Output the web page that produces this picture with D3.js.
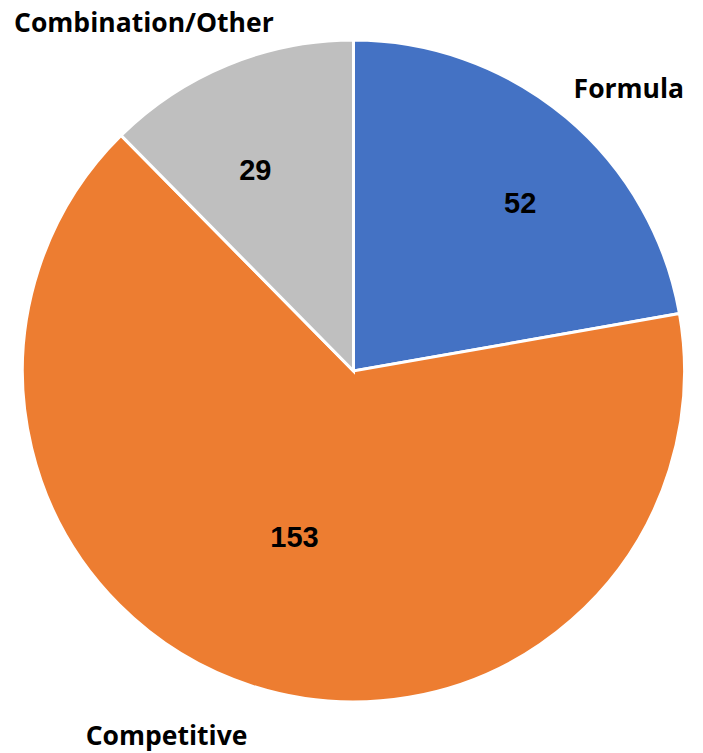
<!DOCTYPE html>
<html>
<head>
<meta charset="utf-8">
<script src="https://cdn.jsdelivr.net/npm/d3@7"></script>
<style>
  html, body { margin: 0; padding: 0; background: #fff; }
  svg { display: block; }
</style>
</head>
<body>
<svg id="chart" width="703" height="753"></svg>
<script>
// Contract award method counts
const categories = ["Formula", "Competitive", "Combination/Other"];
const values = [52, 153, 29];
const colors = ["#4472C4", "#ED7D31", "#BFBFBF"];

const svg = d3.select("#chart");
const cx = 353.5, cy = 371, R = 331;
const g = svg.append("g").attr("transform", `translate(${cx},${cy})`);

const data = categories.map((c, i) => ({ name: c, value: values[i], color: colors[i] }));

const pie = d3.pie().value(d => d.value).sort(null);
const arcs = pie(data);
const arc = d3.arc().innerRadius(0).outerRadius(R);

g.selectAll("path.slice")
  .data(arcs)
  .join("path")
  .attr("class", "slice")
  .attr("d", arc)
  .attr("fill", d => d.data.color)
  .attr("stroke", "#fff")
  .attr("stroke-width", 3)
  .attr("stroke-linejoin", "miter");

// polar placement (angle from top in degrees, radius in px) for value and name labels
const valuePlace = [[44.7, 237], [199.6, 176], [334, 224]];
const namePlace = [[44.2, 395], [207.2, 409], [329, 407]];
const polar = (a, r) => {
  const t = a * Math.PI / 180;
  return [r * Math.sin(t), -r * Math.cos(t)];
};

g.selectAll("text.value")
  .data(arcs)
  .join("text")
  .attr("class", "value")
  .attr("transform", (d, i) => `translate(${polar(...valuePlace[i])})`)
  .attr("text-anchor", "middle")
  .attr("dominant-baseline", "central")
  .attr("font-family", "Liberation Sans, Arial, sans-serif")
  .attr("font-weight", "bold")
  .attr("font-size", 29)
  .attr("fill", "#000")
  .text(d => d.data.value);

g.selectAll("text.name")
  .data(arcs)
  .join("text")
  .attr("class", "name")
  .attr("transform", (d, i) => `translate(${polar(...namePlace[i])})`)
  .attr("text-anchor", "middle")
  .attr("dominant-baseline", "central")
  .attr("font-family", "Open Sans, sans-serif")
  .attr("font-weight", "bold")
  .attr("font-size", 26.5)
  .attr("fill", "#000")
  .text(d => d.data.name);
</script>
</body>
</html>
